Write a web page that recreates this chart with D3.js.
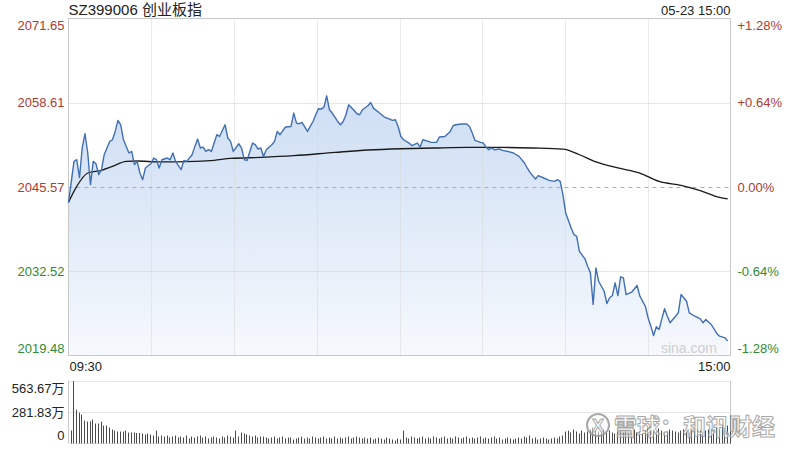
<!DOCTYPE html>
<html>
<head>
<meta charset="utf-8">
<script src="https://cdn.jsdelivr.net/npm/d3@7/dist/d3.min.js"></script>
<style>
  html, body { margin: 0; padding: 0; background: #ffffff; }
  svg { display: block; font-family: "Liberation Sans", Arial, "Noto Sans CJK SC", sans-serif; }
</style>
</head>
<body>
<svg id="chart" width="800" height="450"></svg>
<script>
// ---------- DATA ----------
const title = "SZ399006 创业板指";
const dateLabel = "05-23 15:00";
const timeLabels = ["09:30", "15:00"];
const prevClose = 2045.57;
const priceTicks = [2071.65, 2058.61, 2045.57, 2032.52, 2019.48];
const pctLabels = ["+1.28%", "+0.64%", "0.00%", "-0.64%", "-1.28%"];
const volTicks = [563.67, 281.83, 0];
const volTickLabels = ["563.67万", "281.83万", "0"];
const totalMinutes = 241;

// minute index since 09:30 (trading time) and index level
const priceMinute = [0,2,3,4,5,6,7,8,9,10,11,12,13,14,15,16,17,18,19,20,22,23,24,25,26,27,28,29,30,31,32,33,34,36,37,38,39,41,42,43,45,46,47,48,49,50,51,52,54,55,57,58,59,60,62,63,64,65,67,68,69,70,71,72,74,75,76,77,79,81,82,83,84,85,87,89,90,91,92,93,94,95,96,98,99,100,101,102,104,105,106,107,109,110,111,113,115,116,118,119,120,121,122,124,125,127,128,129,131,132,134,135,137,139,140,141,143,145,146,147,148,150,151,152,153,154,155,157,158,160,162,164,166,167,168,170,171,173,175,177,178,179,180,181,183,184,185,186,188,189,190,191,192,193,195,196,197,198,199,200,201,202,203,205,207,208,210,211,212,213,214,215,216,217,218,219,221,222,223,225,226,228,230,231,232,234,236,237,239,240];
const priceValue = [2043.14,2049.53,2049.79,2047.01,2051.65,2053.81,2050.87,2045.93,2049.53,2049.17,2047.47,2048.24,2050.56,2051.60,2052.62,2052.88,2054.17,2055.87,2055.20,2052.88,2050.83,2051.07,2049.02,2049.53,2047.73,2046.70,2048.51,2048.86,2049.17,2050.05,2049.79,2048.51,2049.79,2050.05,2049.79,2050.83,2049.53,2048.24,2049.68,2049.53,2050.56,2051.85,2052.99,2051.60,2051.75,2051.07,2051.34,2051.07,2053.66,2053.39,2055.20,2053.15,2052.62,2051.07,2052.26,2051.60,2049.79,2049.68,2052.37,2052.11,2051.44,2051.60,2050.30,2051.34,2052.11,2052.62,2054.17,2053.66,2054.85,2054.94,2057.01,2055.46,2055.36,2055.56,2054.17,2055.71,2056.75,2057.68,2057.63,2057.94,2059.68,2057.52,2057.01,2055.71,2055.20,2055.71,2056.75,2058.29,2057.41,2056.90,2056.75,2057.52,2058.14,2058.65,2057.78,2057.10,2056.39,2056.24,2055.87,2055.97,2054.94,2053.39,2052.88,2052.37,2051.96,2052.37,2051.75,2052.88,2052.62,2052.47,2052.47,2053.30,2053.39,2054.17,2055.05,2055.20,2055.31,2055.31,2054.94,2053.92,2052.77,2052.47,2052.37,2051.75,2051.34,2051.60,2051.34,2051.44,2051.23,2051.07,2050.83,2050.30,2049.28,2048.51,2047.83,2046.81,2047.32,2046.96,2046.59,2046.44,2046.70,2046.44,2044.38,2041.55,2039.23,2038.20,2037.93,2035.61,2034.44,2033.29,2032.27,2027.37,2033.05,2030.98,2029.43,2027.53,2028.41,2028.76,2030.73,2028.76,2031.66,2031.50,2028.92,2029.28,2030.31,2028.66,2027.11,2025.32,2024.02,2022.58,2023.93,2023.51,2025.16,2026.71,2025.56,2024.54,2025.56,2026.09,2028.92,2027.88,2026.09,2025.56,2025.16,2024.54,2025.05,2024.28,2022.89,2022.47,2022.22,2021.70];

const avgMinute = [0,3,7,12,16,21,25,33,46,53,59,70,82,97,109,121,133,145,157,169,180,186,192,200,208,215,223,230,237,240];
const avgValue = [2043.19,2045.66,2047.73,2048.14,2048.75,2049.53,2049.59,2049.44,2049.53,2049.68,2049.99,2050.15,2050.41,2050.92,2051.29,2051.49,2051.60,2051.69,2051.69,2051.60,2051.44,2050.56,2049.44,2048.51,2047.73,2046.44,2045.82,2045.00,2043.96,2043.71];

// per-minute volume (万)
const volume = [
 117,563,306,279,261,207,198,198,216,180,
 180,198,162,162,144,126,117,108,108,108,
 117,99,99,99,95,95,90,81,90,81,
 72,117,63,72,63,72,54,63,72,54,
 63,54,72,45,63,54,63,72,54,63,
 45,54,63,54,45,63,54,72,63,54,
 117,63,99,90,81,72,63,72,54,63,
 63,54,45,54,63,45,54,63,45,54,
 54,36,45,54,63,45,54,45,63,54,
 45,54,63,45,54,45,63,45,54,45,
 54,63,45,54,63,54,45,54,45,54,
 36,45,54,45,36,54,45,36,27,45,
 36,117,54,45,63,54,45,54,63,45,
 54,45,63,54,45,54,63,45,54,45,
 63,54,45,54,63,45,54,45,54,63,
 45,54,45,54,63,45,54,36,45,54,
 45,36,45,54,45,63,54,72,45,54,
 36,45,54,45,36,45,54,45,63,72,
 108,117,99,126,108,90,117,99,108,126,
 144,117,108,99,126,108,117,99,90,108,
 117,99,108,90,117,126,99,108,90,117,
 135,117,126,108,135,117,99,108,126,117,
 108,99,117,126,108,99,117,108,126,117,
 108,117,126,135,117,144,126,153,144,162,
 252
];

// ---------- LAYOUT ----------
const svg = d3.select("#chart");
const L = 68.5, R = 730.5, T = 18.5, B = 355.5;
const VT = 381, VB = 443.5;
const red = "#ad3a33", green = "#2f8a35";

const x = d3.scaleLinear().domain([0, totalMinutes]).range([L, R]);
const y = d3.scaleLinear().domain([priceTicks[4], priceTicks[0]]).range([B, T]);
const yv = d3.scaleLinear().domain([0, volTicks[0]]).range([VB, VT]);

const defs = svg.append("defs");
const grad = defs.append("linearGradient").attr("id", "fillGrad")
  .attr("gradientUnits", "userSpaceOnUse").attr("x1", 0).attr("x2", 0).attr("y1", T).attr("y2", B);
grad.append("stop").attr("offset", "0").attr("stop-color", "#c4d7f1");
grad.append("stop").attr("offset", "0.5").attr("stop-color", "#dbe7f7");
grad.append("stop").attr("offset", "1").attr("stop-color", "#f6f9fd");

// area fill
const pts = priceMinute.map((m, i) => [m, priceValue[i]]);
svg.append("path").datum(pts)
  .attr("d", d3.area().x(d => x(d[0])).y0(B).y1(d => y(d[1])))
  .attr("fill", "url(#fillGrad)");

// vertical grid
const vTicks = d3.range(1, 8).map(k => k * totalMinutes / 8);
svg.append("g").selectAll("line").data(vTicks).join("line")
  .attr("x1", d => Math.round(x(d)) + 0.5).attr("x2", d => Math.round(x(d)) + 0.5)
  .attr("y1", T).attr("y2", B)
  .attr("stroke", "#d6d6d6").attr("stroke-dasharray", "1,1");

// horizontal grid
svg.append("g").selectAll("line").data([priceTicks[1], priceTicks[3]]).join("line")
  .attr("x1", L).attr("x2", R)
  .attr("y1", d => Math.round(y(d)) + 0.5).attr("y2", d => Math.round(y(d)) + 0.5)
  .attr("stroke", "#cfcfcf").attr("stroke-dasharray", "1,1");
svg.append("line")
  .attr("x1", L).attr("x2", R)
  .attr("y1", Math.round(y(prevClose)) + 0.5).attr("y2", Math.round(y(prevClose)) + 0.5)
  .attr("stroke", "#aaaaaa").attr("stroke-dasharray", "4,4");

// border
svg.append("rect").attr("x", L).attr("y", T).attr("width", R - L).attr("height", B - T)
  .attr("fill", "none").attr("stroke", "#c8c8c8");

// sina watermark
svg.append("text").attr("x", 717).attr("y", 353).attr("text-anchor", "end")
  .attr("font-size", 14).attr("fill", "#cfcfcf").text("sina.com");

// avg line
const avgPts = avgMinute.map((m, i) => [m, avgValue[i]]);
svg.append("path").datum(avgPts)
  .attr("d", d3.line().x(d => x(d[0])).y(d => y(d[1])).curve(d3.curveMonotoneX))
  .attr("fill", "none").attr("stroke", "#1a1a1a").attr("stroke-width", 1.3);

// price line
svg.append("path").datum(pts)
  .attr("d", d3.line().x(d => x(d[0])).y(d => y(d[1])))
  .attr("fill", "none").attr("stroke", "#416fb5").attr("stroke-width", 1.4)
  .attr("stroke-linejoin", "round");

// left axis (price)
const colorFor = (i) => i <= 2 ? red : green;
const axL = svg.append("g").attr("transform", `translate(${L - 4},0)`)
  .call(d3.axisLeft(y).tickValues(priceTicks).tickSize(0).tickPadding(0).tickFormat(d3.format(".2f")));
axL.select(".domain").remove();
axL.selectAll("text").attr("font-size", 13).attr("font-family", "Liberation Sans, Arial, sans-serif")
  .attr("fill", (d, i) => colorFor(i))
  .attr("dy", (d, i) => i === 0 ? "0.85em" : i === 4 ? "-0.2em" : "0.32em");

// right axis (pct)
const axR = svg.append("g").attr("transform", `translate(${R + 7},0)`)
  .call(d3.axisRight(y).tickValues(priceTicks).tickSize(0).tickPadding(0).tickFormat((d, i) => pctLabels[i]));
axR.select(".domain").remove();
axR.selectAll("text").attr("font-size", 13).attr("font-family", "Liberation Sans, Arial, sans-serif")
  .attr("fill", (d, i) => colorFor(i))
  .attr("dy", (d, i) => i === 0 ? "0.85em" : i === 4 ? "-0.2em" : "0.32em");

// header texts
svg.append("text").attr("x", L).attr("y", 15).attr("font-size", 15).attr("fill", "#222").text(title);
svg.append("text").attr("x", R).attr("y", 15).attr("text-anchor", "end").attr("font-size", 13).attr("fill", "#222").text(dateLabel);
svg.append("text").attr("x", L + 1).attr("y", 371).attr("font-size", 13).attr("fill", "#222").text(timeLabels[0]);
svg.append("text").attr("x", R).attr("y", 371).attr("text-anchor", "end").attr("font-size", 13).attr("fill", "#222").text(timeLabels[1]);

// volume panel
svg.append("g").selectAll("line").data(volTicks.slice(0, 2)).join("line")
  .attr("x1", L).attr("x2", R)
  .attr("y1", d => Math.round(yv(d)) + 0.5).attr("y2", d => Math.round(yv(d)) + 0.5)
  .attr("stroke", "#cfcfcf").attr("stroke-dasharray", "1,1");
svg.append("line").attr("x1", L).attr("x2", L).attr("y1", VT).attr("y2", VB).attr("stroke", "#c8c8c8");
svg.append("line").attr("x1", R).attr("x2", R).attr("y1", VT).attr("y2", VB).attr("stroke", "#c8c8c8");
svg.append("line").attr("x1", L).attr("x2", R).attr("y1", VB).attr("y2", VB).attr("stroke", "#e4e4e4");

svg.append("g").selectAll("line").data(volume).join("line")
  .attr("x1", (d, i) => Math.round(x(i)) + 2.5).attr("x2", (d, i) => Math.round(x(i)) + 2.5)
  .attr("y1", VB).attr("y2", d => yv(d))
  .attr("stroke", "#4a4a4a").attr("stroke-width", 1);

const axV = svg.append("g").attr("transform", `translate(${L - 4},0)`)
  .call(d3.axisLeft(yv).tickValues(volTicks).tickSize(0).tickPadding(0).tickFormat((d, i) => volTickLabels[i]));
axV.select(".domain").remove();
axV.selectAll("text").attr("font-size", 13).attr("font-family", "Liberation Sans, Arial, Noto Sans CJK SC, sans-serif")
  .attr("fill", "#222")
  .attr("dy", (d, i) => i === 0 ? "0.85em" : i === 2 ? "-0.3em" : "0.32em");

// snowball watermark
const wm = svg.append("g").attr("opacity", 0.85);
wm.append("circle").attr("cx", 598).attr("cy", 425).attr("r", 11)
  .attr("fill", "rgba(255,255,255,0.6)").attr("stroke", "#9a9a9a").attr("stroke-width", 2);
wm.append("text").attr("x", 598).attr("y", 432).attr("text-anchor", "middle")
  .attr("font-size", 18).attr("font-weight", "bold").attr("fill", "rgba(255,255,255,0.7)")
  .attr("stroke", "#9a9a9a").attr("stroke-width", 1).text("X");
wm.append("text").attr("x", 614).attr("y", 435)
  .attr("font-family", "Noto Sans CJK SC").attr("font-size", 23).attr("font-weight", "bold")
  .attr("fill", "rgba(255,255,255,0.7)").attr("stroke", "#9a9a9a").attr("stroke-width", 1)
  .text("雪球：和讯财经");
</script>
</body>
</html>
